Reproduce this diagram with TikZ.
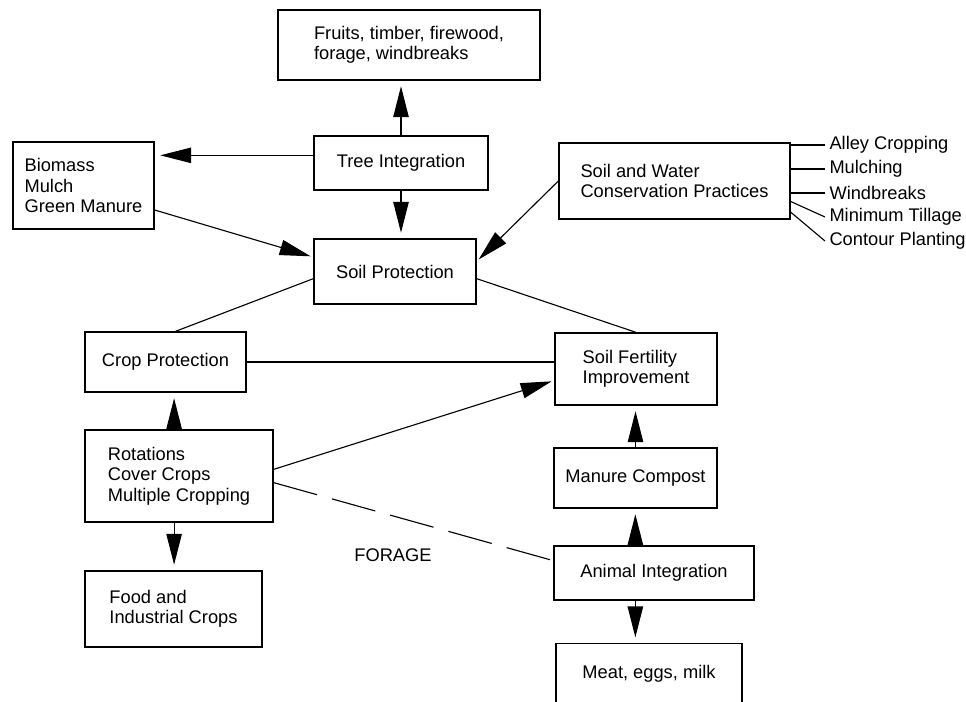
\documentclass[tikz,border=0pt]{standalone}
\usepackage{fontspec}
\setmainfont{Liberation Sans}
\usetikzlibrary{arrows.meta}

\begin{document}
\begin{tikzpicture}[x=0.025cm,y=-0.025cm]
    \useasboundingbox (0,0) rectangle (966,702);

        % Boxes, placed at their centres (one unit = one pixel)
        \begin{scope}[every node/.style={draw,line width=0.9pt,align=left,inner sep=0pt,
                      font=\fontsize{13}{14.5}\selectfont}]
        \node[minimum width=6.55cm,minimum height=1.75cm] (fruits) at (409,45) {Fruits, timber, firewood,\\forage, windbreaks};
        \node[minimum width=4.35cm,minimum height=1.35cm] (tree) at (401,163) {Tree Integration};
        \node[minimum width=3.525cm,minimum height=2.175cm] (biomass) at (83.5,185.5) {Biomass\\Mulch\\Green Manure};
        \node[minimum width=4.05cm,minimum height=1.625cm] (soilprot) at (395,271.5) {Soil Protection};
        \node[minimum width=5.775cm,minimum height=1.9cm] (swc) at (674.5,181) {Soil and Water\\Conservation Practices};
        \node[minimum width=4.025cm,minimum height=1.5cm] (cropprot) at (165.5,362) {Crop Protection};
        \node[minimum width=4.05cm,minimum height=1.8cm] (fert) at (636,369) {Soil Fertility\\Improvement};
        \node[minimum width=4.7cm,minimum height=2.3cm] (rot) at (179,476) {Rotations\\Cover Crops\\Multiple Cropping};
        \node[minimum width=4.075cm,minimum height=1.5cm] (manure) at (635.5,478) {Manure Compost};
        \node[minimum width=5cm,minimum height=1.35cm] (animal) at (654,573) {Animal Integration};
        \node[minimum width=4.425cm,minimum height=1.9cm] (food) at (173.5,609) {Food and\\Industrial Crops};
        \node[minimum width=4.65cm,minimum height=1.5cm,anchor=north] (meat) at (649,643) {Meat, eggs, milk};
        \end{scope}

        % practices listed beside the conservation box
        \begin{scope}[every node/.style={anchor=west,inner xsep=3pt,inner ysep=0pt,
                      font=\fontsize{13}{14.5}\selectfont}]
        \node (alley) at (825,145) {Alley Cropping};
        \node (mulch) at (825,169) {Mulching};
        \node (wind) at (825,193) {Windbreaks};
        \node (till) at (825,217) {Minimum Tillage};
        \node (contour) at (825,241) {Contour Planting};
        \end{scope}
        \node[font=\fontsize{13}{14.5}\selectfont] (forage) at (393,555) {FORAGE};

        % Connections
        \begin{scope}[>={Triangle[length=22pt,width=11pt]},
                  every edge/.style={draw=black,line width=0.8pt}]
        \path [->,shorten >=4pt] (tree.north) edge (tree.north |- fruits.south);
        \path [->,shorten >=4pt] (tree.175) edge (tree.175 -| biomass.east);
        \path [->,shorten >=4pt] (tree.south) edge (tree.south |- soilprot.north);
        \path [->,shorten >=2pt] (biomass.-19) edge (soilprot.170);
        \path [->,shorten >=2pt] (swc.west) edge (soilprot.7);

        \path [-] (soilprot.185) edge (cropprot.72);
        \path [-] (soilprot.-5) edge (fert.north);
        \path [-] (cropprot.east) edge (cropprot.east -| fert.west);

        \path [->,shorten >=2pt] (rot.4) edge (fert.188);
        \path [-] (rot.-4) edge[dash pattern=on 32pt off 11pt] (animal.173);
        \path [->,shorten >=4pt] (rot.96) edge (rot.96 |- cropprot.south);
        \path [->,shorten >=4pt] (rot.264) edge (rot.264 |- food.north);

        \path [->,shorten >=4pt] (manure.north) edge (manure.north |- fert.south);
        \path [->,shorten >=4pt] (animal.124) edge (animal.124 |- manure.south);
        \path [->,shorten >=4pt] (animal.236) edge (animal.236 |- meat.north);

        \path [-] (swc.east |- alley.west) edge (alley.west);
        \path [-] (swc.east |- mulch.west) edge (mulch.west);
        \path [-] (swc.east |- wind.west) edge (wind.west);
        \path [-] (swc.-10) edge (till.west);
        \path [-] (swc.-15.5) edge (contour.west);
        \end{scope}

\end{tikzpicture}
\end{document}
